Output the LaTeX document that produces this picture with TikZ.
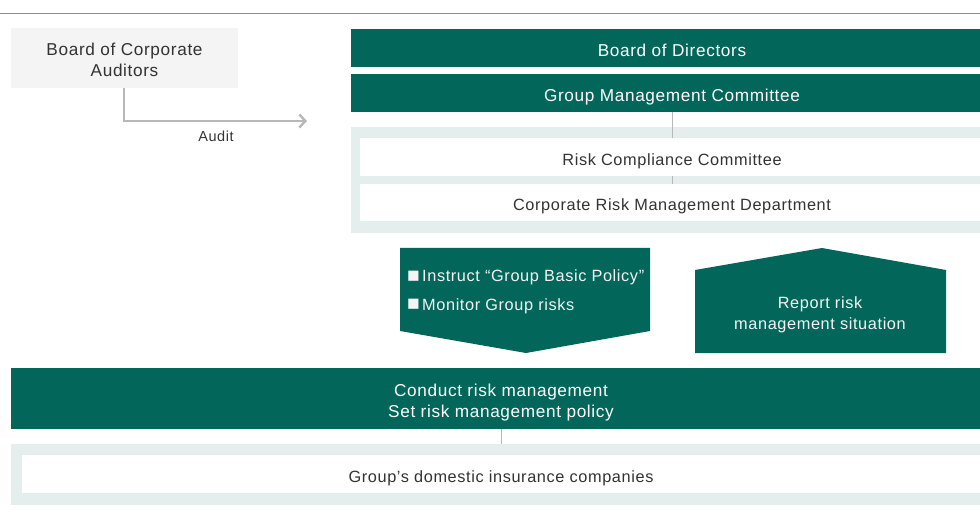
\documentclass[tikz,border=0pt]{standalone}
\usepackage{fontspec}
\setmainfont{Liberation Sans}[LetterSpace=3.8]
\usetikzlibrary{arrows.meta}
\definecolor{dgreen}{HTML}{02675A}
\definecolor{lpanel}{HTML}{E4EEEC}
\definecolor{lgray}{HTML}{F4F4F4}
\definecolor{lineg}{HTML}{B8B8B8}
\definecolor{topline}{HTML}{8C8C8C}
\definecolor{txt}{HTML}{333333}
\definecolor{wtxt}{HTML}{F4F4F4}
\begin{document}
\begin{tikzpicture}[x=1pt,y=-1pt,
  every node/.style={inner sep=0pt, outer sep=0pt, align=center},
  bigfont/.style={font=\fontsize{17.2}{21}\selectfont},
  smallfont/.style={font=\fontsize{16.3}{21}\selectfont},
  oneline/.style={text height=17pt, text depth=0pt},
  twoline/.style={text height=38pt, text depth=0pt},
  greenbox/.style={fill=dgreen, text=white, bigfont},
  whitebox/.style={fill=white, text=txt, smallfont, oneline},
  panel/.style={fill=lpanel},
  graybox/.style={fill=lgray, text=txt, bigfont, twoline},
  conn/.style={draw=lineg, line width=1pt},
  arrowshape/.style={fill=dgreen},
  arrowtext/.style={text=wtxt, smallfont, align=left}
]
\useasboundingbox (0,0) rectangle (980,513);
\begin{scope}
\clip (0,0) rectangle (980,513);
\draw[topline, line width=1.5pt] (0,13.5) -- (980,13.5);

% left auditors
\node[graybox, minimum width=227pt, minimum height=60pt] (bca) at (124.5,58) {Board of Corporate\\Auditors};
\coordinate (auditend) at (307,121);
\draw[draw=lineg, line width=1.4pt, -{Straight Barb[length=6pt,width=13pt,line width=2.4pt]}]
  (bca.south -| 124,0) |- (auditend);
\node[text=txt, font=\fontsize{14.5}{18}\selectfont, anchor=base] (audit) at (216,141.2) {Audit};

% top right
\node[greenbox, oneline, minimum width=642pt, minimum height=38pt] (bod) at (672,48) {Board of Directors};
\node[greenbox, oneline, minimum width=642pt, minimum height=38pt] (gmc) at (672,93) {Group Management Committee};
\node[panel, minimum width=642pt, minimum height=106pt] (pan1) at (672,180) {};
\node[whitebox, minimum width=624pt, minimum height=38pt] (rcc) at (672,157) {Risk Compliance Committee};
\node[whitebox, minimum width=624pt, minimum height=37.5pt] (crmd) at (672,202.5) {Corporate Risk Management Department};
\draw[conn] (gmc.south) -- (rcc.north);
\draw[conn] (rcc.south) -- (crmd.north);

% arrows
\fill[arrowshape] (400,248) -- (650,248) -- (650,331) -- (526,353) -- (400,331) -- cycle;
\node[arrowtext, anchor=base west] (inst) at (407,281.8) {\raisebox{-0.3pt}{\fontsize{21}{21}\selectfont■}\hspace{2.5pt}Instruct “Group Basic Policy”};
\node[arrowtext, anchor=base west] (mon) at (407,310.3) {\raisebox{-0.3pt}{\fontsize{21}{21}\selectfont■}\hspace{2.5pt}Monitor Group risks};
\fill[arrowshape] (695,353) -- (695,270) -- (822,248) -- (946,270) -- (946,353) -- cycle;
\node[text=wtxt, smallfont, twoline] (rep) at (820,310.3) {Report risk\\management situation};

% bottom
\node[greenbox, twoline, minimum width=980pt, minimum height=61pt] (crm) at (501,398.5) {Conduct risk management\\Set risk management policy};
\node[panel, minimum width=980pt, minimum height=61pt] (pan2) at (501,474.5) {};
\node[whitebox, minimum width=958pt, minimum height=38pt] (gdi) at (501,474) {Group’s domestic insurance companies};
\draw[conn] (crm.south) -- (pan2.north);
\end{scope}
\end{tikzpicture}
\end{document}
